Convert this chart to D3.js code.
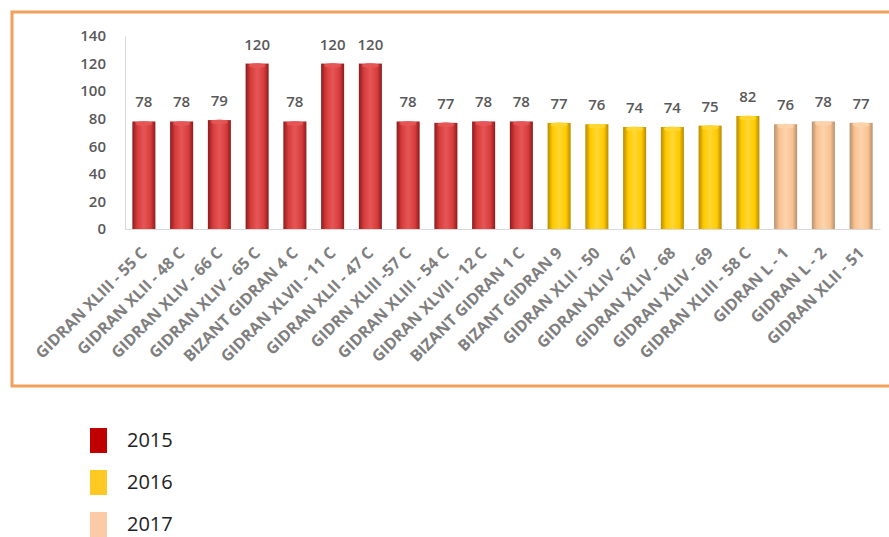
<!DOCTYPE html>
<html><head><meta charset="utf-8">
<script src="https://cdn.jsdelivr.net/npm/d3@7"></script>
<style>body{margin:0;background:#fff;}svg{display:block;}</style>
</head><body>
<script>
const categories = ["GIDRAN XLIII - 55 C","GIDRAN XLII - 48 C","GIDRAN XLIV - 66 C","GIDRAN XLIV - 65 C","BIZANT GIDRAN 4 C","GIDRAN XLVII - 11 C","GIDRAN XLII - 47 C","GIDRN XLIII -57 C","GIDRAN XLIII - 54 C","GIDRAN XLVII - 12 C","BIZANT GIDRAN 1 C","BIZANT GIDRAN 9","GIDRAN XLII - 50","GIDRAN XLIV - 67","GIDRAN XLIV - 68","GIDRAN XLIV - 69","GIDRAN XLIII - 58 C","GIDRAN L - 1","GIDRAN L - 2","GIDRAN XLII - 51"];
const values = [78,78,79,120,78,120,120,78,77,78,78,77,76,74,74,75,82,76,78,77];
const years = [2015,2015,2015,2015,2015,2015,2015,2015,2015,2015,2015,2016,2016,2016,2016,2016,2016,2017,2017,2017];
const legendYears = [2015,2016,2017];
const yTicks = [0,20,40,60,80,100,120,140];

const W = 889, H = 537;
const svg = d3.select("body").append("svg").attr("width", W).attr("height", H);
const defs = svg.append("defs");

const palette = {
  2015: {edge:"#8E1B1B", mid:"#D63C3C", light:"#E65656", legend:"#C00000"},
  2016: {edge:"#B88A00", mid:"#FFCA00", light:"#FFD633", legend:"#FFC925"},
  2017: {edge:"#B8906E", mid:"#F9C291", light:"#FDD3AC", legend:"#FBCBA8"}
};
legendYears.forEach(y => {
  const g = defs.append("linearGradient").attr("id","g"+y).attr("x1","0").attr("x2","1").attr("y1","0").attr("y2","0");
  const p = palette[y];
  g.append("stop").attr("offset","0%").attr("stop-color",p.edge);
  g.append("stop").attr("offset","22%").attr("stop-color",p.mid);
  g.append("stop").attr("offset","50%").attr("stop-color",p.light);
  g.append("stop").attr("offset","80%").attr("stop-color",p.mid);
  g.append("stop").attr("offset","100%").attr("stop-color",p.edge);
});

// frame
svg.append("rect").attr("x",12).attr("y",12).attr("width",900).attr("height",374)
  .attr("fill","#fff").attr("stroke","#F2A05C").attr("stroke-width",3);

const x = d3.scaleBand().domain(categories).range([125,880]).paddingInner(0.39).paddingOuter(0.195);
const y = d3.scaleLinear().domain([0,140]).range([229,36]);

const grey = "#595959";
// y axis
const ya = svg.append("g").attr("transform","translate(125,0)").call(d3.axisLeft(y).tickValues(yTicks).tickSize(0).tickPadding(19));
ya.select(".domain").attr("stroke","#D9D9D9");
ya.selectAll("text").attr("font-family","Open Sans, sans-serif").attr("font-size",15).attr("font-weight",600).attr("fill",grey);

// x axis
const xa = svg.append("g").attr("transform","translate(0,229)").call(d3.axisBottom(x).tickSize(0).tickFormat(""));
xa.select(".domain").attr("stroke","#D9D9D9");

// bars
svg.append("g").selectAll("rect").data(values).join("rect")
  .attr("x",(d,i)=>x(categories[i])).attr("width",x.bandwidth())
  .attr("y",d=>y(d)).attr("height",d=>y(0)-y(d))
  .attr("fill",(d,i)=>"url(#g"+years[i]+")");
// top highlight
svg.append("g").selectAll("ellipse").data(values).join("ellipse")
  .attr("cx",(d,i)=>x(categories[i])+x.bandwidth()/2).attr("cy",d=>y(d)+2)
  .attr("rx",x.bandwidth()/2-3).attr("ry",2.5)
  .attr("fill",(d,i)=>palette[years[i]].light).attr("opacity",0.9);

// value labels
svg.append("g").selectAll("text").data(values).join("text")
  .attr("x",(d,i)=>x(categories[i])+x.bandwidth()/2).attr("y",d=>y(d)-14)
  .attr("text-anchor","middle").attr("font-family","Open Sans, sans-serif").attr("font-size",15).attr("font-weight",600)
  .attr("fill",grey).text(d=>d);

// category labels
svg.append("g").selectAll("text").data(categories).join("text")
  .attr("transform",d=>`translate(${x(d)+x.bandwidth()/2+4},${254}) rotate(-45)`)
  .attr("text-anchor","end").attr("font-family","Open Sans, sans-serif").attr("font-size",16).attr("font-weight",700)
  .attr("fill","#7f7f7f").text(d=>d);

// legend
const lg = svg.append("g").selectAll("g").data(legendYears).join("g")
  .attr("transform",(d,i)=>`translate(90,${428+i*42})`);
lg.append("rect").attr("width",17).attr("height",25).attr("fill",d=>palette[d].legend);
lg.append("text").attr("x",37).attr("y",19).attr("font-family","Open Sans, sans-serif").attr("font-size",20)
  .attr("fill","#222").text(d=>d);
</script>
</body></html>
